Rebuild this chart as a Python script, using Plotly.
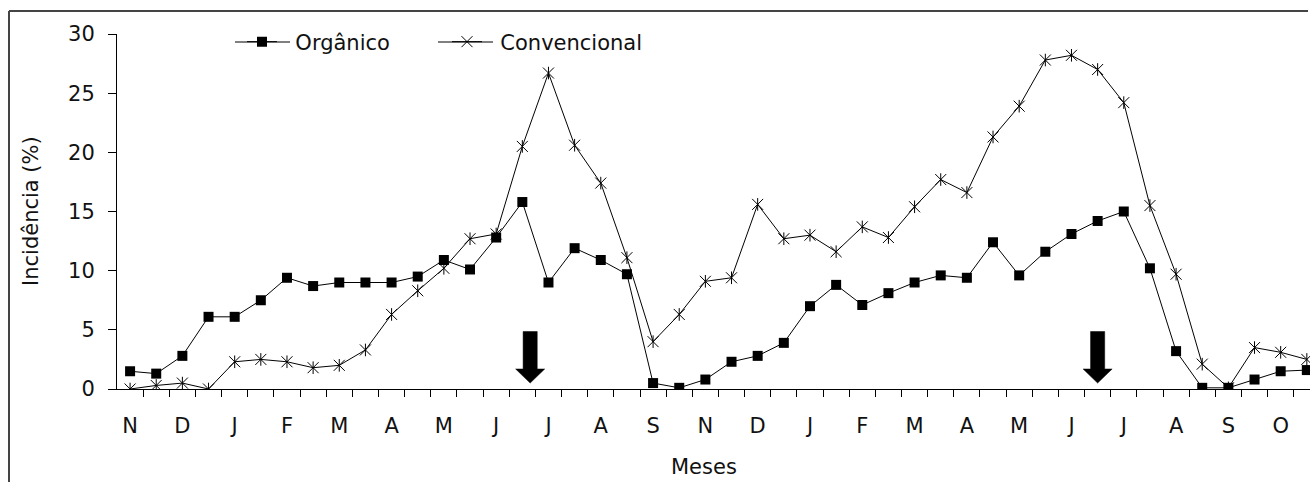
import plotly.graph_objects as go

# ---------------- data ----------------
month_labels = ["N", "D", "J", "F", "M", "A", "M", "J", "J", "A", "S",
                "N", "D", "J", "F", "M", "A", "M", "J", "J", "A", "S", "O"]

organico = [1.5, 1.3, 2.8, 6.1, 6.1, 7.5, 9.4, 8.7, 9.0, 9.0, 9.0, 9.5, 10.9,
            10.1, 12.8, 15.8, 9.0, 11.9, 10.9, 9.7, 0.5, 0.1, 0.8, 2.3, 2.8,
            3.9, 7.0, 8.8, 7.1, 8.1, 9.0, 9.6, 9.4, 12.4, 9.6, 11.6, 13.1,
            14.2, 15.0, 10.2, 3.2, 0.1, 0.1, 0.8, 1.5, 1.6]

convencional = [0.0, 0.3, 0.5, 0.0, 2.3, 2.5, 2.3, 1.8, 2.0, 3.3, 6.3, 8.3,
                10.2, 12.7, 13.1, 20.5, 26.7, 20.6, 17.4, 11.1, 4.0, 6.3, 9.1,
                9.4, 15.6, 12.7, 13.0, 11.6, 13.7, 12.8, 15.4, 17.7, 16.6,
                21.3, 23.9, 27.8, 28.2, 27.0, 24.2, 15.5, 9.7, 2.1, 0.1, 3.5,
                3.1, 2.5]

# positions (category index) of the harvest arrows
arrow_at = [15.3, 37.0]

# ---------------- geometry helpers ----------------
W, H = 1310, 483
ML, MR, MT, MB = 117, 0, 34, 94
PW, PH = W - ML - MR, H - MT - MB


def px_x(p):
    return (p - ML) / PW


def px_y(p):
    return (H - MB - p) / PH


x = list(range(len(organico)))
n = len(x)
x_range = [-0.5, -0.5 + PW / 26.15]

FONT = "DejaVu Sans"
FS = 21
TXT = "#111111"
NB = "\u00a0\u00a0"

fig = go.Figure()

fig.add_trace(go.Scatter(
    x=x, y=organico, name=NB + "Orgânico", mode="lines+markers",
    line=dict(color="black", width=1),
    marker=dict(symbol="square", size=10, color="black"),
    legend="legend", cliponaxis=True,
))
fig.add_trace(go.Scatter(
    x=x, y=convencional, name=NB + "Convencional", mode="lines+markers",
    line=dict(color="black", width=1),
    marker=dict(symbol="x-thin-open", size=11, color="black",
                line=dict(color="black", width=1)),
    legend="legend2", cliponaxis=True,
))
# vertical arm of the asterisk marker
fig.add_trace(go.Scatter(
    x=x, y=convencional, mode="markers", showlegend=False, xaxis="x2",
    marker=dict(symbol="line-ns-open", size=9, color="black",
                line=dict(color="black", width=1)),
    hoverinfo="skip", cliponaxis=True,
))

# arrows (filled, black)
head_w, shaft_w = 0.555, 0.27
y_top, y_neck, y_tip = 4.86, 1.69, 0.5
for a in arrow_at:
    path = (f"M {a - shaft_w} {y_top} L {a + shaft_w} {y_top} "
            f"L {a + shaft_w} {y_neck} L {a + head_w} {y_neck} "
            f"L {a} {y_tip} L {a - head_w} {y_neck} "
            f"L {a - shaft_w} {y_neck} Z")
    fig.add_shape(type="path", path=path, xref="x", yref="y",
                  fillcolor="black", line=dict(color="black", width=0.5))

# outer frame: only its left and top edges fall inside the crop
FRAME = dict(color="#444444", width=2)
fig.add_shape(type="line", xref="paper", yref="paper",
              x0=px_x(9), x1=px_x(9), y0=px_y(H - 1), y1=px_y(11),
              line=FRAME, layer="above")
fig.add_shape(type="line", xref="paper", yref="paper",
              x0=px_x(9), x1=px_x(W - 2), y0=px_y(11), y1=px_y(11),
              line=FRAME, layer="above")

# longer legend lines, as in the original legend keys
LEG_Y = 42
for x0, x1 in [(235, 290), (438, 493)]:
    fig.add_shape(type="line", xref="paper", yref="paper",
                  x0=px_x(x0), x1=px_x(x1), y0=px_y(LEG_Y), y1=px_y(LEG_Y),
                  line=dict(color="black", width=1))

fig.update_layout(
    width=W, height=H,
    margin=dict(l=ML, r=MR, t=MT, b=MB),
    paper_bgcolor="white", plot_bgcolor="white",
    font=dict(family=FONT, size=FS, color=TXT),
    xaxis=dict(
        range=x_range, tickmode="array",
        tickvals=[i + 0.5 for i in range(n - 1)],
        showticklabels=False, ticks="outside", ticklen=7, tickwidth=1,
        tickcolor="black", showline=True, linecolor="black", linewidth=1,
        showgrid=False, zeroline=False,
    ),
    xaxis2=dict(
        range=x_range, overlaying="x", anchor="y", side="bottom",
        tickmode="array", tickvals=list(range(0, n, 2)),
        ticktext=month_labels, ticks="", showline=False, showgrid=False,
        zeroline=False, ticklabelstandoff=22,
        tickfont=dict(family=FONT, size=FS, color=TXT),
    ),
    yaxis=dict(
        range=[0, 30], tickmode="array", tickvals=[0, 5, 10, 15, 20, 25, 30],
        ticks="outside", ticklen=8, tickwidth=1, tickcolor="black",
        showline=True, linecolor="black", linewidth=1, showgrid=False,
        zeroline=False, ticklabelstandoff=9,
        tickfont=dict(family=FONT, size=FS, color=TXT),
    ),
    legend=dict(
        x=px_x(242), y=px_y(LEG_Y), xanchor="left", yanchor="middle",
        orientation="h", bgcolor="rgba(0,0,0,0)", borderwidth=0,
        font=dict(family=FONT, size=FS, color=TXT),
    ),
    legend2=dict(
        x=px_x(447), y=px_y(LEG_Y), xanchor="left", yanchor="middle",
        orientation="h", bgcolor="rgba(0,0,0,0)", borderwidth=0,
        font=dict(family=FONT, size=FS, color=TXT),
    ),
    annotations=[
        dict(text="Incidência (%)", xref="paper", yref="paper",
             x=px_x(31), y=px_y(211), textangle=-90, showarrow=False,
             xanchor="center", yanchor="middle",
             font=dict(family=FONT, size=FS, color=TXT)),
        dict(text="Meses", xref="paper", yref="paper",
             x=px_x(704), y=px_y(467), showarrow=False,
             xanchor="center", yanchor="middle",
             font=dict(family=FONT, size=FS, color=TXT)),
    ],
    showlegend=True,
)

fig.write_html("out.html")
